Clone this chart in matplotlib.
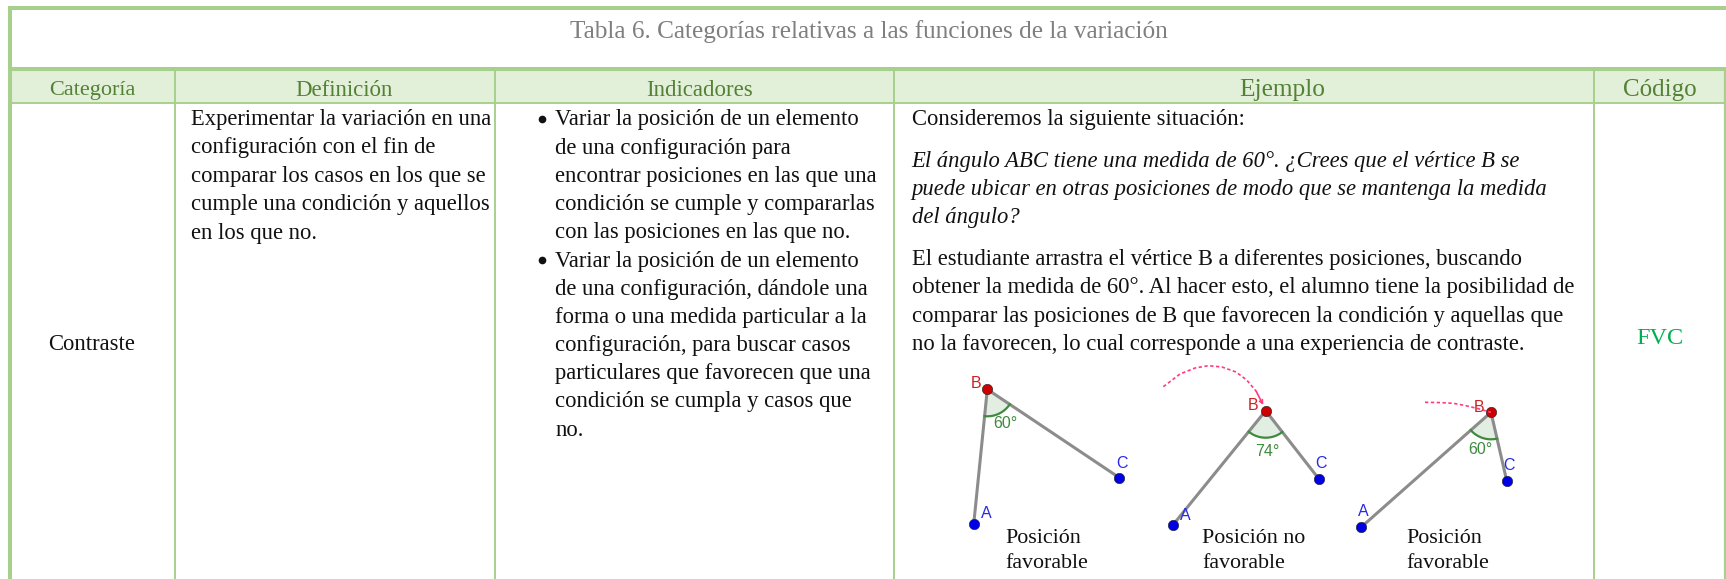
import matplotlib
matplotlib.use('Agg')
import matplotlib.pyplot as plt
import numpy as np
from matplotlib.patches import Rectangle, Wedge, FancyArrowPatch

BORDER = '#a8d08d'
HEAD_FILL = '#e2efd9'
HEAD_TEXT = '#538135'

title = 'Tabla 6. Categorías relativas a las funciones de la variación'
headers = ['Categoría', 'Definición', 'Indicadores', 'Ejemplo', 'Código']
header_x = [92, 344, 700, 1282, 1660]
header_size = [16, 16.5, 16.5, 18.3, 18]
col_lines = [175, 495, 894, 1594]

definicion = ['Experimentar la variación en una',
              'configuración con el fin de',
              'comparar los casos en los que se',
              'cumple una condición y aquellos',
              'en los que no.']
indicadores = ['Variar la posición de un elemento',
               'de una configuración para',
               'encontrar posiciones en las que una',
               'condición se cumple y compararlas',
               'con las posiciones en las que no.',
               'Variar la posición de un elemento',
               'de una configuración, dándole una',
               'forma o una medida particular a la',
               'configuración, para buscar casos',
               'particulares que favorecen que una',
               'condición se cumpla y casos que',
               'no.']
bullet_lines = [0, 5]
ejemplo = ['Consideremos la siguiente situación:']
ejemplo_italic = ['El ángulo ABC tiene una medida de 60°. ¿Crees que el vértice B se',
                  'puede ubicar en otras posiciones de modo que se mantenga la medida',
                  'del ángulo?']
ejemplo_resto = ['El estudiante arrastra el vértice B a diferentes posiciones, buscando',
                 'obtener la medida de 60°. Al hacer esto, el alumno tiene la posibilidad de',
                 'comparar las posiciones de B que favorecen la condición y aquellas que',
                 'no la favorecen, lo cual corresponde a una experiencia de contraste.']

# triangle points, in picture pixels
pts_a = [(973.7, 524.3), (1172.7, 525.3), (1361, 527.3)]
pts_b = [(987.3, 389.3), (1265.7, 410.7), (1491, 412.3)]
pts_c = [(1119.3, 477.7), (1318.7, 478.7), (1506.7, 480.7)]
lab_a = [(986.3, 514), (1185.7, 515), (1363.3, 511)]
lab_b = [(975.7, 384), (1253.3, 405.7), (1479, 407.7)]
lab_c = [(1121.7, 463), (1321, 464), (1509.3, 466)]
angles = ['60°', '74°', '60°']
lab_ang = [(1005.7, 423), (1267.7, 452), (1480, 450)]
captions = [['Posición', 'favorable'], ['Posición no', 'favorable'], ['Posición', 'favorable']]
cap_x = [1005, 1202, 1406]
trail_2x = [1163.3, 1180, 1195, 1208.3, 1222, 1236, 1246.7, 1256, 1263.3]
trail_2y = [386.7, 374, 368, 365.7, 367, 372, 380, 391, 405]
trail_3x = [1425, 1440, 1453.3, 1465, 1476.7, 1491]
trail_3y = [402.3, 402.6, 403.3, 405.5, 408.3, 412.3]

plt.rcParams['font.family'] = ['Liberation Serif', 'DejaVu Serif']
fig = plt.figure(figsize=(17.26, 5.79), dpi=100)
ax = fig.add_axes([0, 0, 1, 1])
ax.set_xlim(0, 1726)
ax.set_ylim(579, 0)
ax.axis('off')

# table frame
ax.add_patch(Rectangle((10, 69), 1715, 33, facecolor=HEAD_FILL, edgecolor='none'))
ax.plot([8, 1726], [8, 8], color=BORDER, lw=2.9, solid_capstyle='butt', zorder=3)
ax.plot([10, 1726], [69, 69], color=BORDER, lw=2.9, solid_capstyle='butt', zorder=3)
ax.plot([10, 1726], [102.5, 102.5], color=BORDER, lw=1.4, solid_capstyle='butt', zorder=3)
ax.plot([10, 10], [6, 579], color=BORDER, lw=2.9, solid_capstyle='butt', zorder=3)
ax.plot([1725, 1725], [69, 579], color=BORDER, lw=1.6, solid_capstyle='butt', zorder=3)
for x in col_lines:
    ax.plot([x, x], [69, 579], color=BORDER, lw=1.4, solid_capstyle='butt', zorder=3)

ax.text(869, 32, title, fontsize=18.2, color='#7f7f7f', ha='center', va='center')
for name, x, s in zip(headers, header_x, header_size):
    ax.text(x, 90, name, fontsize=s, color=HEAD_TEXT, ha='center', va='center')

ax.text(92, 344, 'Contraste', fontsize=16.3, color='#111111', ha='center', va='center')
ax.text(1660, 338, 'FVC', fontsize=17.5, color='#00b050', ha='center', va='center')

TXT = dict(fontsize=16.3, color='#111111', ha='left', va='baseline')
for i, line in enumerate(definicion):
    ax.text(190.5, 125 + i * 28.4, line, **TXT)
for i, line in enumerate(indicadores):
    y = 125.5 + i * 28.2
    ax.text(555, y, line, **TXT)
    if i in bullet_lines:
        ax.plot(542, y - 6.5, 'o', color='#111111', ms=4.5)
ax.text(911.5, 125, ejemplo[0], **TXT)
for i, line in enumerate(ejemplo_italic):
    ax.text(911.5, 167 + i * 28.2, line, style='italic', **TXT)
for i, line in enumerate(ejemplo_resto):
    ax.text(911.5, 265 + i * 28.4, line, **TXT)

# the three GeoGebra figures
for i in range(3):
    a, b, c = np.array(pts_a[i]), np.array(pts_b[i]), np.array(pts_c[i])
    ang1 = np.degrees(np.arctan2(*(a - b)[::-1]))
    ang2 = np.degrees(np.arctan2(*(c - b)[::-1]))
    ax.add_patch(Wedge(b, 27, min(ang1, ang2), max(ang1, ang2), facecolor='#e3eee3', edgecolor='none', zorder=4))
    ax.plot(*zip(a, b), color='#8c8c8c', lw=2.2, zorder=5)
    ax.plot(*zip(b, c), color='#8c8c8c', lw=2.2, zorder=5)
    t = np.radians(np.linspace(min(ang1, ang2), max(ang1, ang2), 30))
    ax.plot(b[0] + 27 * np.cos(t), b[1] + 27 * np.sin(t), color='#3f8a3f', lw=1.6, zorder=6)
    for p, col in ((a, '#0000e6'), (c, '#0000e6'), (b, '#cc0000')):
        ax.plot(p[0], p[1], 'o', color=col, ms=7.5, mec='#222222', mew=0.4, zorder=7)
    for lab, txt, col in ((lab_a[i], 'A', '#2a2ae6'), (lab_b[i], 'B', '#cc2222'), (lab_c[i], 'C', '#2a2ae6')):
        ax.text(lab[0], lab[1], txt, family='Liberation Sans', fontsize=11.5, color=col, ha='center', va='center', zorder=8)
    ax.text(lab_ang[i][0], lab_ang[i][1], angles[i], family='Liberation Sans', fontsize=11.5, color='#3f8a3f', ha='center', va='center', zorder=8)
    ax.text(cap_x[i], 543, captions[i][0], fontsize=15.8, color='#111111', va='baseline')
    ax.text(cap_x[i], 568, captions[i][1], fontsize=15.8, color='#111111', va='baseline')

ax.plot(trail_2x[:-1], trail_2y[:-1], color='#ff3b7f', lw=1.2, ls=(0, (2, 1.5)), zorder=6)
ax.add_patch(FancyArrowPatch((trail_2x[-2], trail_2y[-2]), (trail_2x[-1], trail_2y[-1]), arrowstyle='->', mutation_scale=6, color='#ff3b7f', lw=1.2, shrinkA=0, shrinkB=0, zorder=6))
ax.plot(trail_3x, trail_3y, color='#ff3b7f', lw=1.2, ls=(0, (2, 1.5)), zorder=9)

fig.savefig('out.png', dpi=100)
